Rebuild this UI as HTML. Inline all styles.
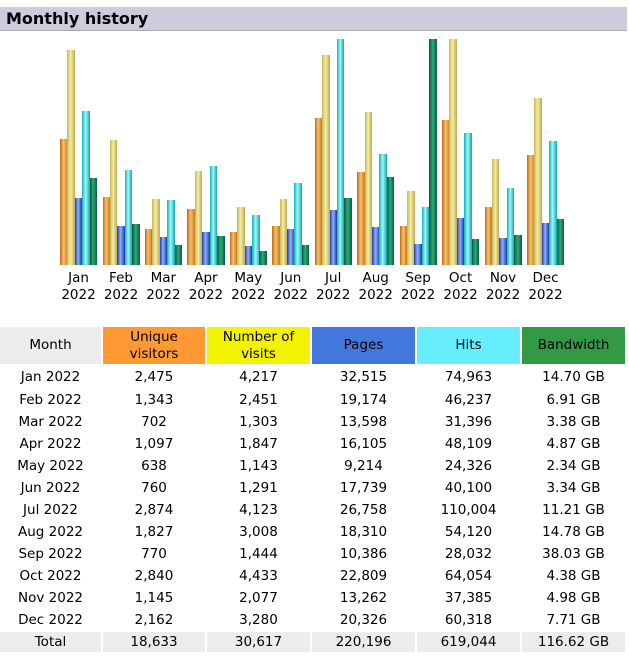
<!DOCTYPE html>
<html><head><meta charset="utf-8"><style>
body{margin:0;width:629px;height:662px;background:#fff;position:relative;font-family:"DejaVu Sans","Liberation Sans",sans-serif;overflow:hidden}
#hd{position:absolute;left:0;top:7px;width:627px;height:23px;background:#ccccdd;border-bottom:1px solid #aaa}
#hd span{position:absolute;left:6px;top:2px;font-weight:bold;font-size:16px;color:#000}
.b{position:absolute;bottom:397px}
.lb{position:absolute;top:270px;width:44px;text-align:center;font-size:13.5px;line-height:17px;color:#000}
table{position:absolute;left:0;top:327px;border-collapse:separate;border-spacing:2px 0;margin-left:-2px;font-size:13.5px}
td{text-align:center;height:22px;padding:0;color:#000}
th{font-weight:normal;height:37px;font-size:13.5px;line-height:17px;padding:0}
tr.f td{height:24px;padding-top:1px}
tr.t td{background:#ececec;height:20px}
tr.s td{height:1px}
</style></head><body>
<div id="hd"><span>Monthly history</span></div>
<div id="ch"></div>
<table id="tb">
<tr><th style="width:101px;background:#ececec">Month</th><th style="width:102px;background:#ff9933">Unique<br>visitors</th><th style="width:103px;background:#f3f300">Number of<br>visits</th><th style="width:103px;background:#4477dd">Pages</th><th style="width:103px;background:#66eeff">Hits</th><th style="width:103px;background:#339944">Bandwidth</th></tr>
</table>
<script>
var m=["Jan","Feb","Mar","Apr","May","Jun","Jul","Aug","Sep","Oct","Nov","Dec"];
var d=[[2475,4217,32515,74963,14.70],[1343,2451,19174,46237,6.91],[702,1303,13598,31396,3.38],[1097,1847,16105,48109,4.87],[638,1143,9214,24326,2.34],[760,1291,17739,40100,3.34],[2874,4123,26758,110004,11.21],[1827,3008,18310,54120,14.78],[770,1444,10386,28032,38.03],[2840,4433,22809,64054,4.38],[1145,2077,13262,37385,4.98],[2162,3280,20326,60318,7.71]];
var g=["linear-gradient(90deg,#c06a10,#f8c070 45%,#c87818)","linear-gradient(90deg,#c8b850,#f4eca8 45%,#c0aa48)","linear-gradient(90deg,#2040b0,#90b0f8 45%,#1838a8)","linear-gradient(90deg,#10b0b8,#a0f8f8 45%,#10a8b0)","linear-gradient(90deg,#005838,#30a878 45%,#006040)"];
var mx=[4433,4433,110004,110004,38.03],H=226,h="";
for(var i=0;i<12;i++){var x=60+i*42.45;
for(var k=0;k<5;k++){var v=Math.round(H*d[i][k]/mx[k]);h+='<div class="b" style="left:'+(x+k*7.4).toFixed(1)+'px;width:7.6px;height:'+v+'px;background:'+g[k]+'"></div>';}
h+='<div class="lb" style="left:'+(x-3.5).toFixed(1)+'px">'+m[i]+'<br>2022</div>';}
document.getElementById("ch").innerHTML=h;
function f(n){return n.toLocaleString("en-US")}
var t="";
for(var i=0;i<12;i++){t+='<tr'+(i==0?' class="f"':'')+'><td>'+m[i]+' 2022</td><td>'+f(d[i][0])+'</td><td>'+f(d[i][1])+'</td><td>'+f(d[i][2])+'</td><td>'+f(d[i][3])+'</td><td>'+d[i][4].toFixed(2)+' GB</td></tr>';}
t+='<tr class="s"><td></td><td></td><td></td><td></td><td></td><td></td></tr>';
t+='<tr class="t"><td>Total</td><td>18,633</td><td>30,617</td><td>220,196</td><td>619,044</td><td>116.62 GB</td></tr>';
document.getElementById("tb").insertAdjacentHTML("beforeend",t);
</script>
</body></html>
